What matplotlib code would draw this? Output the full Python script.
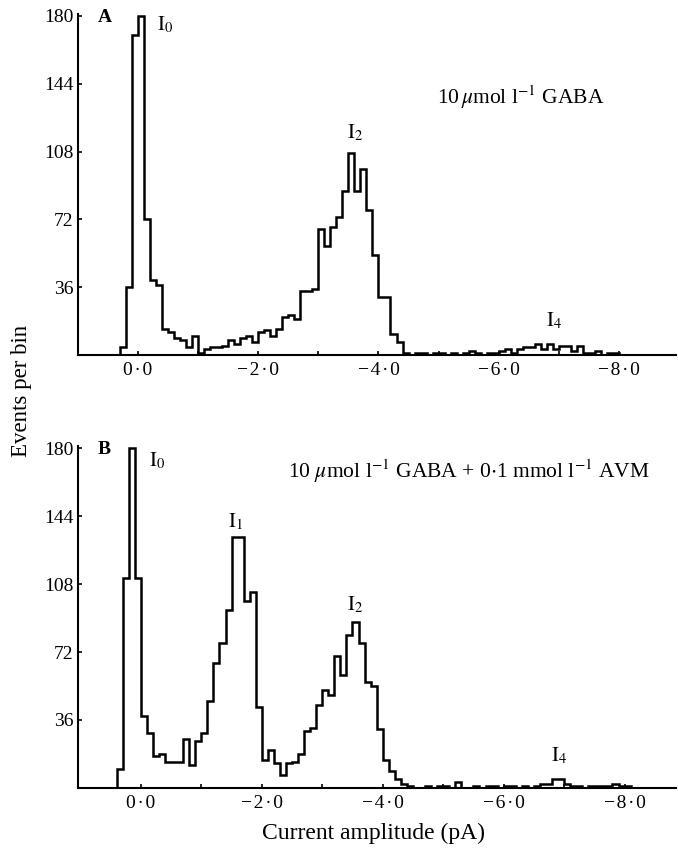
import numpy as np
import matplotlib
matplotlib.use("Agg")
import matplotlib.pyplot as plt

plt.rcParams['font.family'] = 'serif'
plt.rcParams['font.serif'] = ['Liberation Serif', 'DejaVu Serif']
plt.rcParams['mathtext.fontset'] = 'stix'

# histogram bin edges, current amplitude in pA (0.1 pA bins)
edges = np.round(np.arange(0.4, -8.25, -0.1), 1)

# events per bin, panel A: 10 umol/l GABA
counts_a = [0, 4, 36, 170, 180, 72, 40, 37, 14, 12,      # 0.4 .. -0.6
            9, 8, 4, 10, 1, 3, 4, 4, 5, 8,               # -0.6 .. -1.6
            6, 9, 10, 7, 12, 13, 10, 14, 20, 21,         # -1.6 .. -2.6
            19, 34, 34, 35, 67, 58, 68, 73, 87, 107,     # -2.6 .. -3.6
            87, 99, 77, 53, 31, 31, 11, 7, 1, 0,         # -3.6 .. -4.6
            1, 1, 0, 1, 1, 0, 1, 0, 1, 2,                # -4.6 .. -5.6
            1, 0, 1, 1, 2, 3, 1, 3, 4, 4,                # -5.6 .. -6.6
            6, 3, 6, 3, 5, 5, 2, 5, 1, 1,                # -6.6 .. -7.6
            2, 0, 1, 1, 0, 0]                            # -7.6 .. -8.2

# events per bin, panel B: GABA + 0.1 mmol/l AVM
counts_b = [10, 111, 180, 111, 38, 29, 17, 18, 14, 14,
            14, 26, 12, 25, 29, 46, 66, 77, 94, 133,
            133, 99, 104, 43, 15, 20, 13, 7, 13, 14,
            18, 30, 32, 44, 52, 49, 70, 60, 81, 88,
            77, 56, 54, 31, 15, 9, 5, 2, 1, 0,
            0, 1, 0, 1, 1, 0, 3, 0, 0, 1,
            0, 1, 1, 0, 1, 1, 0, 1, 0, 1,
            2, 2, 5, 5, 2, 1, 1, 0, 1, 1,
            1, 1, 2, 1, 1, 0]

HAIR = '\u200a'

x_major = [0, -2, -4, -6, -8]
x_minor = [-1, -3, -5, -7]
x_labels = ['0' + HAIR + '\u00b7' + HAIR + '0',
            '\u2212' + HAIR + '2' + HAIR + '\u00b7' + HAIR + '0',
            '\u2212' + HAIR + '4' + HAIR + '\u00b7' + HAIR + '0',
            '\u2212' + HAIR + '6' + HAIR + '\u00b7' + HAIR + '0',
            '\u2212' + HAIR + '8' + HAIR + '\u00b7' + HAIR + '0']
y_ticks = [36, 72, 108, 144, 180]

# peak labels: (text, amplitude, count)
peaks_a = [(r'$\mathrm{I}_0$', -0.45, 175), (r'$\mathrm{I}_2$', -3.61, 118),
           (r'$\mathrm{I}_4$', -6.92, 18)]
peaks_b = [(r'$\mathrm{I}_0$', -0.27, 173), (r'$\mathrm{I}_1$', -1.57, 141),
           (r'$\mathrm{I}_2$', -3.55, 97), (r'$\mathrm{I}_4$', -6.91, 17)]

fig = plt.figure(figsize=(6.78, 8.48), dpi=100)
ax_a = fig.add_axes([0.115, 0.5814, 0.882, 0.402])
ax_b = fig.add_axes([0.115, 0.0708, 0.882, 0.403])


def draw_panel(ax, counts, xlim, letter, letter_x, peaks, cond, cond_x, cond_y):
    ax.stairs(counts[::-1], edges[::-1], color='black', lw=1.8, baseline=0)
    ax.set_xlim(*xlim)
    ax.set_ylim(0, 181)
    for s in ['top', 'right']:
        ax.spines[s].set_visible(False)
    for s in ['left', 'bottom']:
        ax.spines[s].set_linewidth(1.5)
    ax.set_xticks(x_major)
    ax.set_xticklabels(x_labels)
    ax.set_xticks(x_minor, minor=True)
    ax.set_yticks(y_ticks)
    ax.tick_params(axis='both', which='both', direction='in', length=3, width=1.2,
                   labelsize=14)
    ax.tick_params(axis='x', pad=5)
    ax.tick_params(axis='y', pad=3)
    ax.text(letter_x, 179, letter, fontsize=14, fontweight='bold', ha='center', va='center')
    for txt, xv, yv in peaks:
        ax.text(xv, yv, txt, fontsize=15, ha='center', va='center')
    ax.text(cond_x, cond_y, cond, fontsize=15.5, ha='center', va='center')


draw_panel(ax_a, counts_a, (1.0, -8.95), 'A', 0.55, peaks_a,
           r'10$\,\mu$mol l$^{-1}$ GABA', -6.37, 137)
draw_panel(ax_b, counts_b, (1.04, -8.85), 'B', 0.6, peaks_b,
           r'10 $\mu$mol l$^{-1}$ GABA + 0$\cdot$1 mmol l$^{-1}$ AVM', -5.42, 168)

fig.text(22 / 678, 1 - 391 / 848, 'Events per bin', rotation=90,
         ha='center', va='center', fontsize=16.5)
fig.text(374 / 678, 1 - 833 / 848, 'Current amplitude (pA)',
         ha='center', va='center', fontsize=17)

fig.savefig('out.png', dpi=100)
